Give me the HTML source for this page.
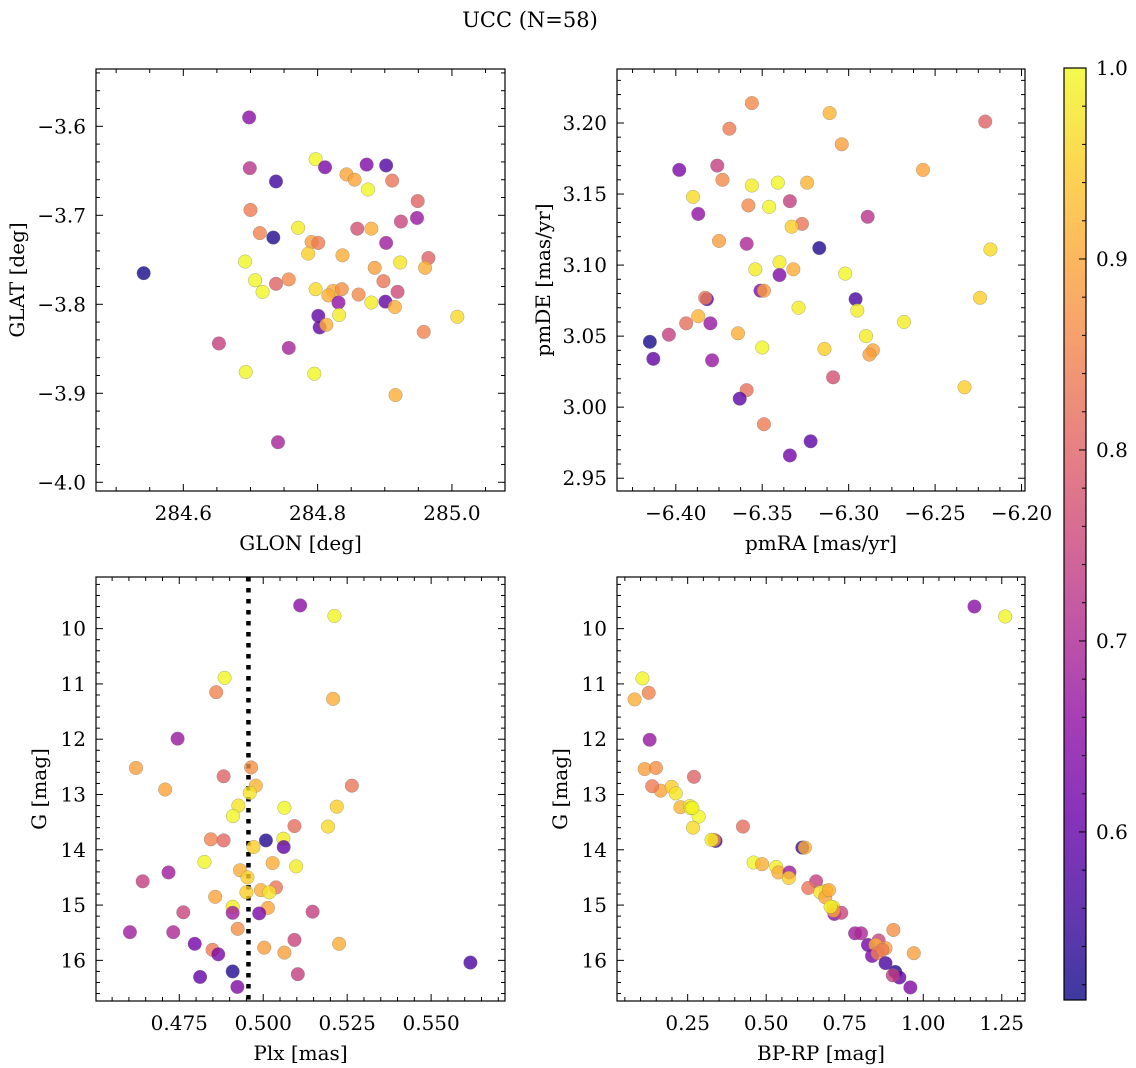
<!DOCTYPE html>
<html><head><meta charset="utf-8"><style>
html,body{margin:0;padding:0;background:#fff;}
svg{display:block;font-family:"DejaVu Serif","Liberation Serif",serif;}
</style></head><body>
<svg id="fig" width="1136" height="1068" viewBox="0 0 1136 1068" xmlns="http://www.w3.org/2000/svg">
<text x="530" y="27" font-size="21" text-anchor="middle">UCC (N=58)</text>
</svg>
<script>
// ---- Panel 1: GLON vs GLAT ----
const p1Glon=[284.698,284.797,284.811,284.873,284.902,284.699,284.738,284.843,284.855,284.911,284.875,284.700,284.949,284.924,284.948,284.771,284.714,284.734,284.859,284.880,284.791,284.801,284.902,284.786,284.837,284.692,284.923,284.965,284.960,284.885,284.541,284.898,284.707,284.738,284.757,284.718,284.797,284.823,284.836,284.816,284.861,284.919,284.831,284.880,284.901,284.915,284.832,284.801,284.803,284.813,285.008,284.958,284.653,284.757,284.693,284.795,284.916,284.741];
const p1Glat=[-3.590,-3.637,-3.646,-3.643,-3.644,-3.647,-3.662,-3.654,-3.660,-3.661,-3.671,-3.694,-3.684,-3.707,-3.703,-3.714,-3.720,-3.725,-3.715,-3.715,-3.730,-3.731,-3.731,-3.743,-3.745,-3.752,-3.753,-3.748,-3.759,-3.759,-3.765,-3.774,-3.773,-3.777,-3.772,-3.786,-3.783,-3.785,-3.783,-3.790,-3.789,-3.786,-3.798,-3.798,-3.797,-3.803,-3.812,-3.813,-3.826,-3.823,-3.814,-3.831,-3.844,-3.849,-3.876,-3.878,-3.902,-3.955];
const p1Prob=[0.65,0.995,0.63,0.64,0.58,0.72,0.56,0.9,0.9,0.83,0.995,0.84,0.8,0.75,0.67,0.985,0.85,0.53,0.77,0.91,0.89,0.84,0.68,0.95,0.91,0.995,0.975,0.8,0.91,0.89,0.52,0.83,0.995,0.8,0.86,0.995,0.965,0.91,0.87,0.91,0.86,0.76,0.66,0.985,0.6,0.91,0.985,0.6,0.6,0.91,0.965,0.85,0.74,0.69,0.995,0.995,0.91,0.69];
// ---- Panel 2: pmRA vs pmDE ----
const p2Pmra=[-6.356,-6.311,-6.221,-6.369,-6.304,-6.398,-6.376,-6.257,-6.373,-6.356,-6.341,-6.324,-6.390,-6.334,-6.358,-6.346,-6.387,-6.289,-6.327,-6.333,-6.375,-6.359,-6.317,-6.218,-6.340,-6.354,-6.332,-6.340,-6.302,-6.351,-6.349,-6.382,-6.383,-6.296,-6.224,-6.329,-6.295,-6.387,-6.394,-6.380,-6.268,-6.404,-6.364,-6.290,-6.415,-6.350,-6.314,-6.286,-6.288,-6.413,-6.379,-6.309,-6.233,-6.359,-6.363,-6.349,-6.322,-6.334];
const p2Pmde=[3.214,3.207,3.201,3.196,3.185,3.167,3.170,3.167,3.160,3.156,3.158,3.158,3.148,3.145,3.142,3.141,3.136,3.134,3.129,3.127,3.117,3.115,3.112,3.111,3.102,3.097,3.097,3.093,3.094,3.082,3.082,3.076,3.077,3.076,3.077,3.070,3.068,3.064,3.059,3.059,3.060,3.051,3.052,3.050,3.046,3.042,3.041,3.040,3.037,3.034,3.033,3.021,3.014,3.012,3.006,2.988,2.976,2.966];
const p2Prob=[0.86,0.92,0.8,0.84,0.89,0.63,0.74,0.9,0.86,0.985,0.995,0.92,0.965,0.74,0.86,0.995,0.66,0.72,0.83,0.95,0.89,0.7,0.53,0.965,0.985,0.985,0.91,0.64,0.995,0.64,0.89,0.58,0.84,0.57,0.95,0.985,0.985,0.92,0.82,0.67,0.985,0.74,0.91,0.985,0.52,0.995,0.95,0.9,0.89,0.6,0.67,0.77,0.95,0.82,0.59,0.84,0.59,0.62];
// ---- Panel 3: Plx vs G ----
const p3Plx=[0.5110,0.5212,0.4885,0.4860,0.5208,0.4745,0.4621,0.4964,0.4882,0.4708,0.4978,0.5264,0.4960,0.4926,0.5063,0.5219,0.4910,0.5093,0.5193,0.4844,0.4882,0.5008,0.5060,0.5061,0.4971,0.4825,0.5028,0.5098,0.4931,0.4718,0.4641,0.4953,0.5038,0.4993,0.5018,0.4950,0.4857,0.4909,0.5014,0.4762,0.4909,0.4988,0.5147,0.4603,0.4732,0.4924,0.4796,0.5003,0.5093,0.5226,0.4849,0.4866,0.5063,0.5617,0.4909,0.4812,0.5103,0.4923];
const p3G=[9.58,9.77,10.89,11.15,11.27,11.99,12.52,12.51,12.67,12.91,12.84,12.84,12.97,13.20,13.24,13.22,13.39,13.57,13.58,13.81,13.83,13.83,13.80,13.95,13.95,14.22,14.24,14.30,14.37,14.41,14.57,14.50,14.68,14.73,14.77,14.77,14.85,15.03,15.05,15.13,15.14,15.15,15.12,15.49,15.49,15.43,15.70,15.77,15.63,15.70,15.81,15.89,15.86,16.04,16.20,16.30,16.25,16.48];
const p3Prob=[0.65,0.995,0.995,0.85,0.91,0.67,0.89,0.87,0.8,0.9,0.92,0.83,0.975,0.975,0.995,0.95,0.995,0.82,0.965,0.85,0.81,0.53,0.985,0.6,0.95,0.995,0.91,0.985,0.91,0.68,0.74,0.95,0.83,0.91,0.975,0.95,0.9,0.985,0.9,0.75,0.68,0.63,0.74,0.68,0.7,0.87,0.62,0.89,0.75,0.91,0.84,0.63,0.89,0.57,0.53,0.6,0.74,0.64];
const plxLine=0.4956;
// ---- Panel 4: BP-RP vs G ----
const p4Bprp=[1.163,1.261,0.106,0.126,0.081,0.129,0.113,0.149,0.270,0.164,0.137,0.199,0.212,0.227,0.257,0.260,0.285,0.426,0.267,0.339,0.334,0.326,0.615,0.623,0.460,0.487,0.532,0.539,0.574,0.572,0.659,0.634,0.691,0.672,0.688,0.714,0.717,0.739,0.714,0.783,0.802,0.905,0.824,0.858,0.880,0.848,0.837,0.855,0.970,0.880,0.911,0.924,0.903,0.959,0.705,0.700,0.265,0.870];
const p4G=[9.60,9.78,10.90,11.16,11.28,12.01,12.54,12.52,12.68,12.93,12.85,12.86,12.98,13.23,13.21,13.25,13.40,13.58,13.60,13.84,13.82,13.82,13.96,13.96,14.23,14.26,14.31,14.41,14.41,14.51,14.57,14.69,14.74,14.77,14.86,15.04,15.16,15.14,15.10,15.51,15.51,15.45,15.72,15.64,15.78,15.72,15.92,15.87,15.87,16.05,16.21,16.31,16.27,16.49,15.03,14.73,13.24,15.81];
const p4Prob=[0.65,0.995,0.995,0.85,0.91,0.67,0.89,0.87,0.8,0.9,0.84,0.95,0.975,0.92,0.985,0.995,0.995,0.82,0.965,0.56,0.85,0.985,0.55,0.91,0.995,0.91,0.985,0.91,0.68,0.95,0.74,0.83,0.95,0.975,0.9,0.985,0.65,0.75,0.9,0.68,0.7,0.87,0.62,0.75,0.89,0.91,0.63,0.84,0.89,0.57,0.53,0.6,0.74,0.64,0.985,0.91,0.995,0.84];
// ---- Colorbar ----
const cbMin=0.512, cbMax=1.0;
const cbTicks=[0.6,0.7,0.8,0.9,1.0];
const cbTickLabels=["0.6","0.7","0.8","0.9","1.0"];

const NS="http://www.w3.org/2000/svg";
const svg=document.getElementById('fig');
const FS=20;
function mk(tag,attrs,parent){const e=document.createElementNS(NS,tag);for(const k in attrs)e.setAttribute(k,attrs[k]);(parent||svg).appendChild(e);return e;}
const plasma=["#0d0887","#41049d","#6a00a8","#8f0da4","#b12a90","#cc4778","#e16462","#f2844b","#fca636","#fcce25","#f0f921"];
function hex(h){return [parseInt(h.substr(1,2),16),parseInt(h.substr(3,2),16),parseInt(h.substr(5,2),16)];}
function cmap(p){let t=(p-cbMin)/(cbMax-cbMin);t=Math.max(0,Math.min(1,t));const f=t*10;const i=Math.min(9,Math.floor(f));const u=f-i;const a=hex(plasma[i]),b=hex(plasma[i+1]);return 'rgb('+a.map((v,k)=>Math.round(v+(b[k]-v)*u)).join(',')+')';}
function fmt(v,d){const s=Math.abs(v).toFixed(d);return (v<-1e-9?'\u2212':'')+s;}

function panel(cfg){
  const {name,x0,x1,y0,y1,xmin,xmax,ymin,ymax,invY}=cfg;
  const sx=v=>x0+(v-xmin)/(xmax-xmin)*(x1-x0);
  const sy=invY? v=>y0+(v-ymin)/(ymax-ymin)*(y1-y0) : v=>y1-(v-ymin)/(ymax-ymin)*(y1-y0);
  const g=mk('g',{});
  
  
  const tg=mk('g',{stroke:'#000','stroke-width':1},g);
  
  
  const eps=1e-9;
  for(let k=Math.ceil(xmin/cfg.xminor-eps);k*cfg.xminor<=xmax+eps;k++){
    const v=k*cfg.xminor;const X=sx(v);const maj=Math.abs(v/cfg.xmajor-Math.round(v/cfg.xmajor))<1e-6;const L=maj?7:4;
    mk('line',{x1:X,x2:X,y1:y1,y2:y1-L},tg);mk('line',{x1:X,x2:X,y1:y0,y2:y0+L},tg);
    if(maj){const t=mk('text',{x:X,y:y1+29,'font-size':FS,'text-anchor':'middle',stroke:'none',fill:'#000'},g);t.textContent=fmt(v,cfg.xdec);
      }
  }
  for(let k=Math.ceil(Math.min(ymin,ymax)/cfg.yminor-eps);k*cfg.yminor<=Math.max(ymin,ymax)+eps;k++){
    const v=k*cfg.yminor;const Y=sy(v);const maj=Math.abs(v/cfg.ymajor-Math.round(v/cfg.ymajor))<1e-6;const L=maj?7:4;
    mk('line',{x1:x0,x2:x0+L,y1:Y,y2:Y},tg);mk('line',{x1:x1,x2:x1-L,y1:Y,y2:Y},tg);
    if(maj){const t=mk('text',{x:x0-10,y:Y+7,'font-size':FS,'text-anchor':'end',stroke:'none',fill:'#000'},g);t.textContent=fmt(v,cfg.ydec);
      }
  }
  if(cfg.vline!==undefined){
    const l=mk('line',{x1:sx(cfg.vline),x2:sx(cfg.vline),y1:y0,y2:y1,stroke:'#000','stroke-width':4.5,'stroke-dasharray':'4.5 6.5'},g);
    
  }
  const pg=mk('g',{},g);
  
  const xs=cfg.xs,ys=cfg.ys,ps=cfg.ps;
  for(let i=0;i<xs.length;i++){
    const c=mk('circle',{cx:sx(xs[i]),cy:sy(ys[i]),r:6.8,fill:cmap(ps[i]),'fill-opacity':0.8,stroke:'#777','stroke-opacity':0.6,'stroke-width':0.5},pg);
    
    
  }
  const fr=mk('rect',{x:x0,y:y0,width:x1-x0,height:y1-y0,fill:'none',stroke:'#000','stroke-width':1.2},g);
  
  const xl=mk('text',{x:(x0+x1)/2,y:y1+59,'font-size':FS,'text-anchor':'middle'},g);xl.textContent=cfg.xlabel;
  
  const yl=mk('text',{x:0,y:0,'font-size':FS,'text-anchor':'middle',transform:`translate(${cfg.ylx},${(y0+y1)/2}) rotate(-90)`},g);yl.textContent=cfg.ylabel;
  
}

panel({name:'glon-glat-panel',x0:96,x1:505,y0:69,y1:491,xmin:284.470,xmax:285.079,ymin:-4.0098,ymax:-3.5356,xmajor:0.2,xminor:0.05,ymajor:0.1,yminor:0.02,xdec:1,ydec:1,xs:p1Glon,ys:p1Glat,ps:p1Prob,xlabel:'GLON [deg]',ylabel:'GLAT [deg]',ylx:24});
panel({name:'pm-panel',x0:617,x1:1025,y0:69,y1:491,xmin:-6.434,xmax:-6.198,ymin:2.941,ymax:3.238,xmajor:0.05,xminor:0.0125,ymajor:0.05,yminor:0.01,xdec:2,ydec:2,xs:p2Pmra,ys:p2Pmde,ps:p2Prob,xlabel:'pmRA [mas/yr]',ylabel:'pmDE [mas/yr]',ylx:550});
panel({name:'plx-g-panel',x0:96,x1:505,y0:577,y1:1001,xmin:0.4502,xmax:0.572,ymin:9.066,ymax:16.735,invY:true,xmajor:0.025,xminor:0.005,ymajor:1,yminor:0.2,xdec:3,ydec:0,xs:p3Plx,ys:p3G,ps:p3Prob,xlabel:'Plx [mas]',ylabel:'G [mag]',ylx:46,vline:plxLine});
panel({name:'cmd-panel',x0:617,x1:1025,y0:577,y1:1001,xmin:0.025,xmax:1.324,ymin:9.066,ymax:16.735,invY:true,xmajor:0.25,xminor:0.05,ymajor:1,yminor:0.2,xdec:2,ydec:0,xs:p4Bprp,ys:p4G,ps:p4Prob,xlabel:'BP-RP [mag]',ylabel:'G [mag]',ylx:567});

(function(){
  const cx0=1064,cx1=1086,cy0=68,cy1=1000;
  const g=mk('g',{});
  
  const defs=mk('defs',{},g);
  const lg=mk('linearGradient',{id:'cbg',x1:0,y1:1,x2:0,y2:0},defs);
  for(let i=0;i<=40;i++){const p=cbMin+(cbMax-cbMin)*i/40;mk('stop',{offset:(i/40),'stop-color':cmap(p),'stop-opacity':0.8},lg);}
  const r=mk('rect',{x:cx0,y:cy0,width:cx1-cx0,height:cy1-cy0,fill:'url(#cbg)',stroke:'#000','stroke-width':1.2},g);
  
  const sy=v=>cy1-(v-cbMin)/(cbMax-cbMin)*(cy1-cy0);
  for(let k=Math.ceil(cbMin/0.02);k*0.02<=cbMax+1e-9;k++){const v=k*0.02;const Y=sy(v);const maj=Math.abs(v*10-Math.round(v*10))<1e-6;mk('line',{x1:cx1,x2:cx1-(maj?7:4),y1:Y,y2:Y,stroke:'#000','stroke-width':1},g);}
  cbTicks.forEach((v,i)=>{const t=mk('text',{x:cx1+10,y:sy(v)+7,'font-size':FS},g);t.textContent=cbTickLabels[i];
    });
})();
</script>
</body></html>
